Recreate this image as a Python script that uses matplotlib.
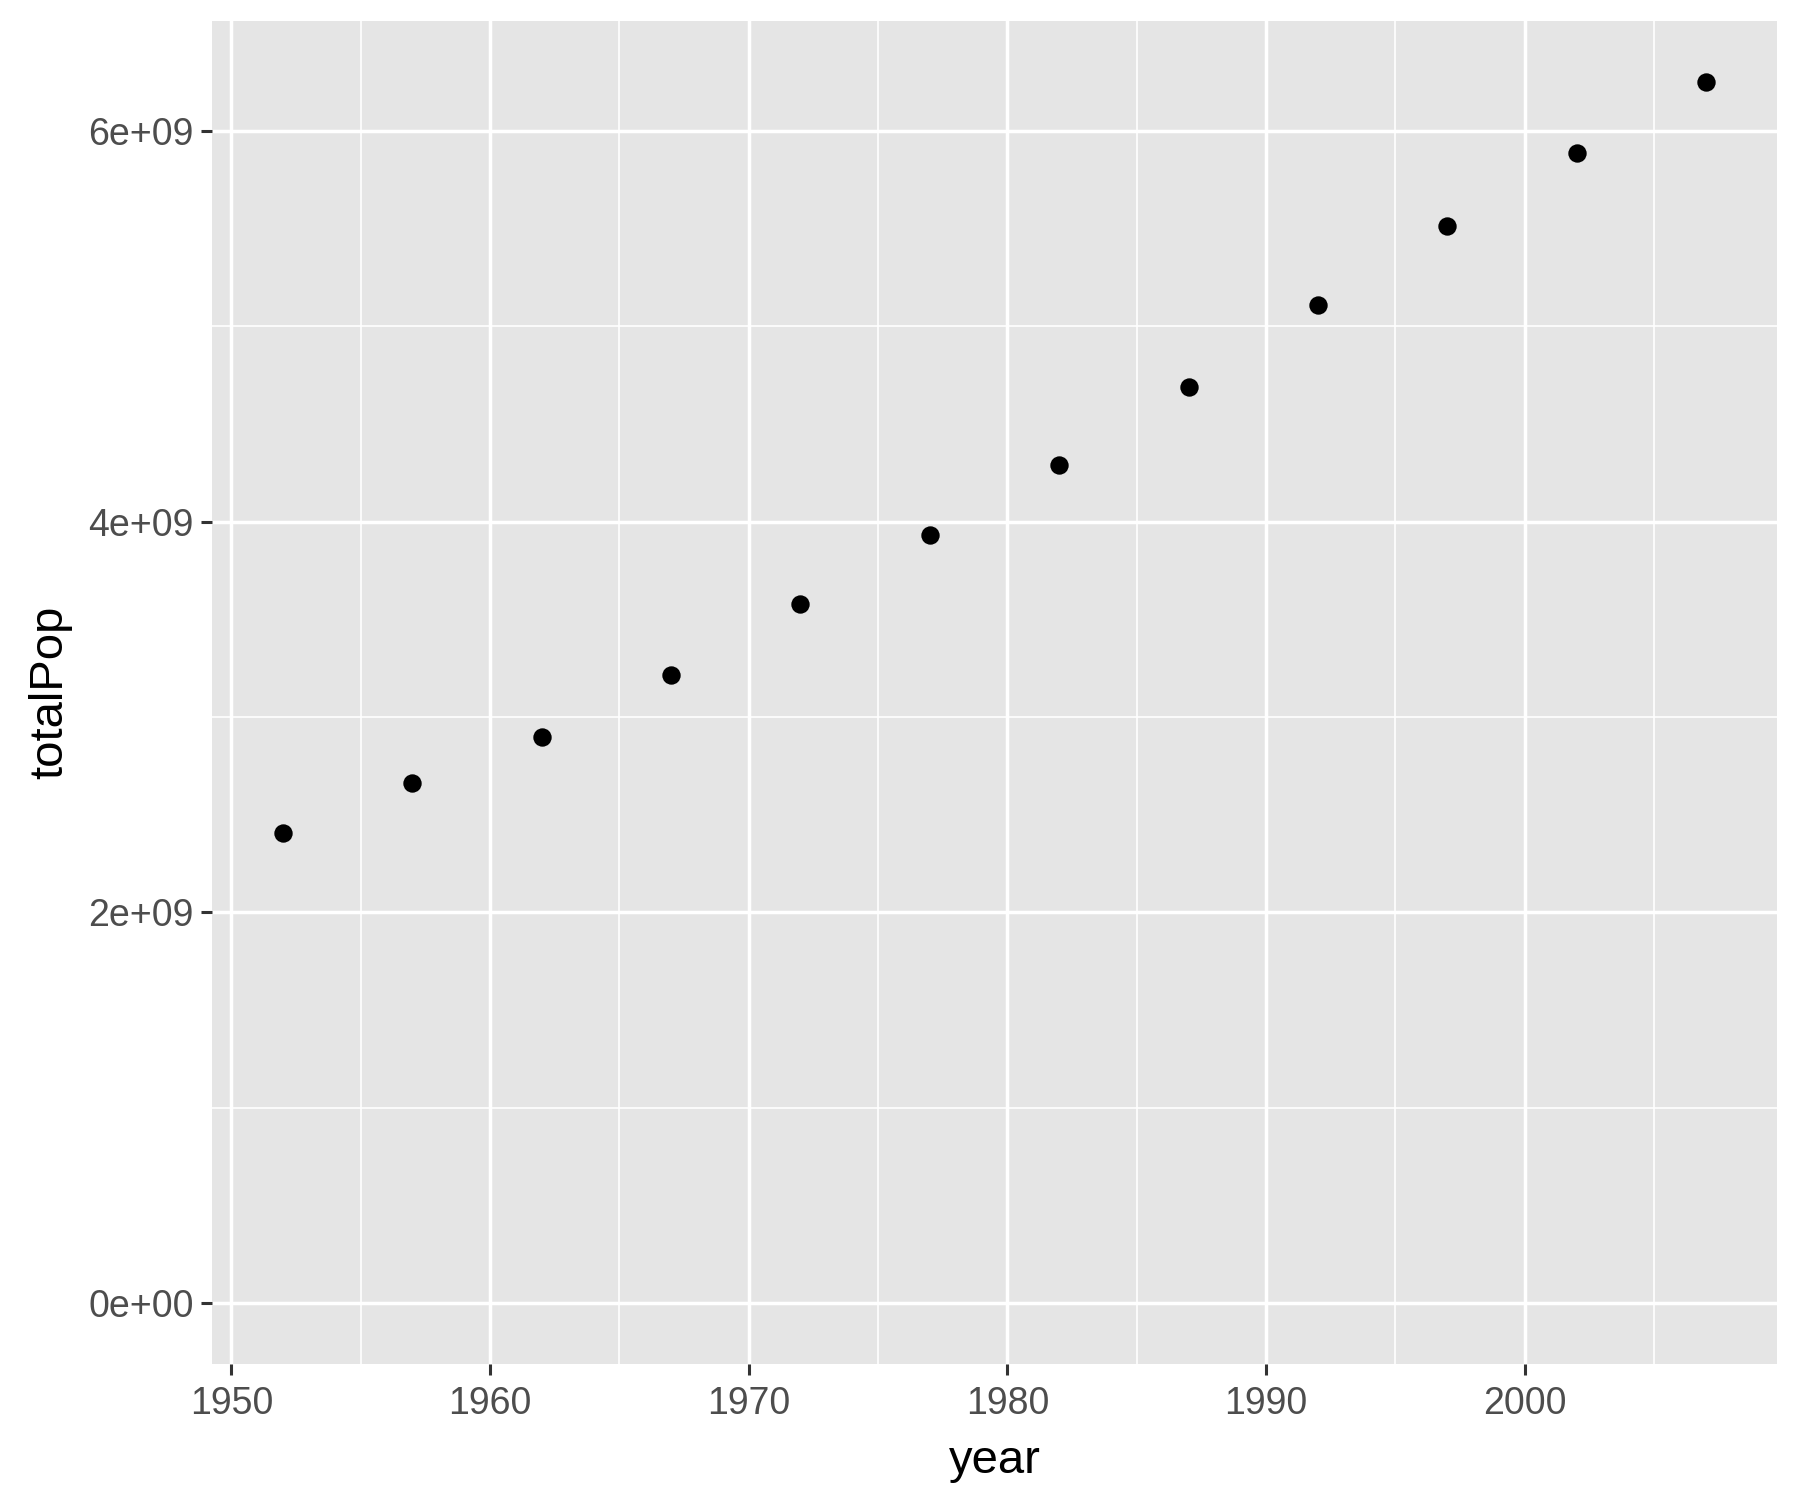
import numpy as np
import matplotlib
matplotlib.use("Agg")
import matplotlib.pyplot as plt
from matplotlib.ticker import FixedLocator, FuncFormatter

# gapminder: total world population per year
years = [1952, 1957, 1962, 1967, 1972, 1977, 1982, 1987, 1992, 1997, 2002, 2007]
total_pop = [2406957150, 2664404580, 2899782974, 3217478384, 3576977158, 3930045807,
             4289436840, 4691477418, 5110710260, 5515204472, 5886977579, 6251013179]

plt.rcParams['font.family'] = ['Liberation Sans', 'DejaVu Sans']

fig = plt.figure(figsize=(18, 15), dpi=100)
ax = fig.add_axes([212/1800, 1 - 1364/1500, (1777-212)/1800, (1364-21)/1500])

ax.set_facecolor('#E5E5E5')
for s in ax.spines.values():
    s.set_visible(False)

ax.scatter(years, total_pop, s=175, color='black', zorder=3, linewidths=0)

# ggplot-style expansion 5%
xr = max(years) - min(years)
ax.set_xlim(min(years) - 0.05*xr, max(years) + 0.05*xr)
yr = max(total_pop) - 0
ax.set_ylim(0 - 0.05*yr, max(total_pop) + 0.05*yr)

ax.xaxis.set_major_locator(FixedLocator([1950, 1960, 1970, 1980, 1990, 2000]))
ax.xaxis.set_minor_locator(FixedLocator([1955, 1965, 1975, 1985, 1995, 2005]))
ax.yaxis.set_major_locator(FixedLocator([0, 2e9, 4e9, 6e9]))
ax.yaxis.set_minor_locator(FixedLocator([1e9, 3e9, 5e9]))
ylabels = {0: '0e+00', 2e9: '2e+09', 4e9: '4e+09', 6e9: '6e+09'}
ax.yaxis.set_major_formatter(FuncFormatter(lambda v, p: ylabels.get(v, '')))

ax.grid(which='major', color='white', lw=2.5, zorder=0)
ax.grid(which='minor', color='white', lw=1.2, zorder=0)
ax.set_axisbelow(True)

ax.tick_params(which='major', length=8, width=2.2, color='#333333',
               labelsize=27, labelcolor='#4D4D4D', pad=5)
ax.tick_params(axis='x', which='major', pad=8)
ax.tick_params(which='minor', length=0)

ax.set_xlabel('year', fontsize=34, color='black', labelpad=12)
ax.set_ylabel('totalPop', fontsize=34, color='black', labelpad=12)

fig.savefig('out.png', dpi=100, facecolor='white')
